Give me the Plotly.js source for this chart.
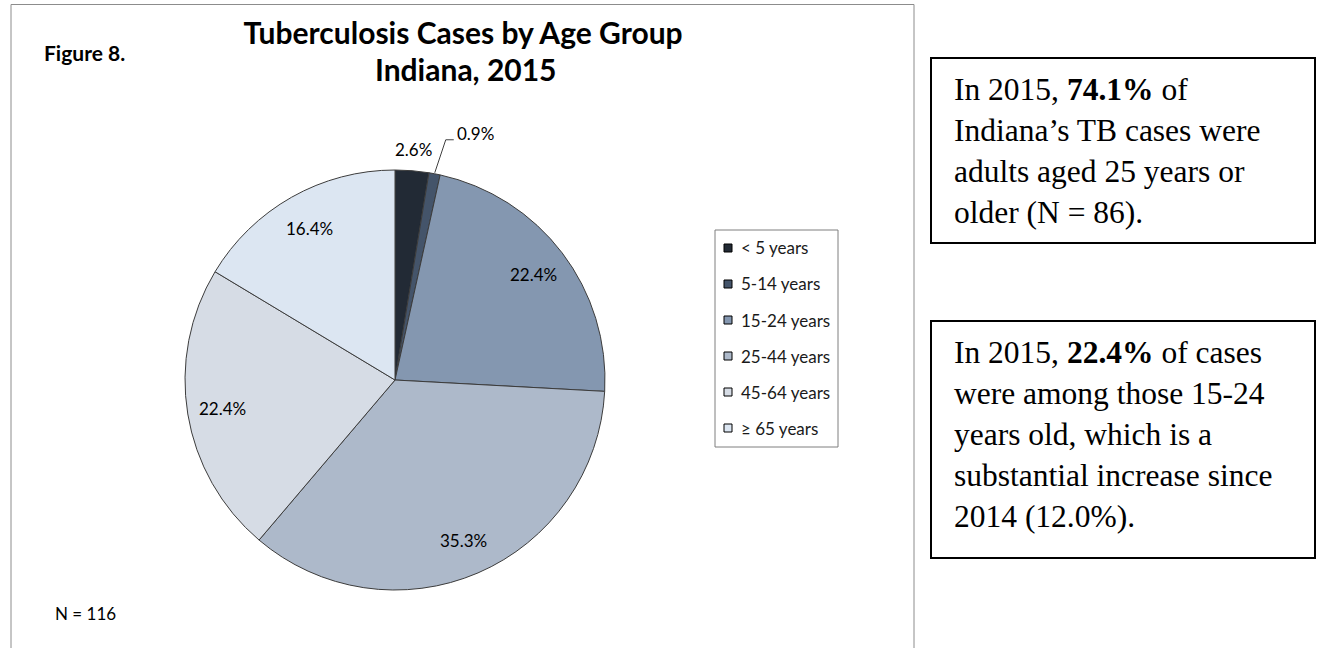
<!DOCTYPE html>
<html>
<head>
<meta charset="utf-8">
<script src="https://cdn.plot.ly/plotly-3.0.1.min.js"></script>
<style>
  html, body { margin: 0; padding: 0; background: #ffffff; }
  #chart { width: 1317px; height: 648px; }
</style>
</head>
<body>
<div id="chart"></div>
<script>
// Tuberculosis cases by age group, Indiana 2015
const ageGroups   = ['< 5 years', '5-14 years', '15-24 years', '25-44 years', '45-64 years', '≥ 65 years'];
const caseCounts  = [3, 1, 26, 41, 26, 19];
const sliceColors = ['#222a35', '#44546a', '#8497b0', '#adb9ca', '#d6dce5', '#dce6f2'];
const adultGroups = ['25-44 years', '45-64 years', '≥ 65 years'];
const youthGroup  = '15-24 years';
const prevYear = 2014;
const prevYearYouthPct = '12.0%';
const titleLines = ['Tuberculosis Cases by Age Group', 'Indiana, 2015'];

const W = 1317, H = 648;
const X = px => px / W;
const Y = py => 1 - py / H;

const CAL = 'Lato, sans-serif';
const SERIF = '"Liberation Serif", "Times New Roman", serif';

const total = caseCounts.reduce((a, b) => a + b, 0);
const pct = v => (v / total * 100).toFixed(1) + '%';

// pie geometry in page pixels
const PIE = { cx: 395, cy: 380, r: 210 };

const pie = {
  type: 'pie',
  values: caseCounts,
  labels: ageGroups,
  sort: false,
  direction: 'clockwise',
  rotation: 0,
  textinfo: 'none',
  hoverinfo: 'skip',
  showlegend: false,
  marker: { colors: sliceColors, line: { color: '#3c3c3c', width: 1 } },
  domain: {
    x: [X(PIE.cx - PIE.r), X(PIE.cx + PIE.r)],
    y: [Y(PIE.cy + PIE.r), Y(PIE.cy - PIE.r)]
  }
};

const annotations = [];
const shapes = [];

function text(t, px, py, size, opts) {
  annotations.push(Object.assign({
    text: t, xref: 'paper', yref: 'paper', x: X(px), y: Y(py),
    xanchor: 'center', yanchor: 'middle', showarrow: false,
    font: { family: CAL, size: size, color: '#000000' }
  }, opts || {}));
}

// slice percentage labels, placed along each slice's bisector
let cum = 0;
caseCounts.forEach((v, i) => {
  const mid = 2 * Math.PI * (cum + v / 2) / total;
  cum += v;
  const share = v / total;
  const sx = Math.sin(mid), sy = Math.cos(mid);
  if (share >= 0.05) {
    const k = 0.83;
    text(pct(v), PIE.cx + k * PIE.r * sx, PIE.cy - k * PIE.r * sy, 17);
  } else if (i === 0) {
    const k = 1.1;
    text(pct(v), PIE.cx + k * PIE.r * sx, PIE.cy - k * PIE.r * sy, 17);
  } else {
    // small slice: label pulled aside with a leader line
    const ex = PIE.cx + (PIE.r + 1) * sx, ey = PIE.cy - (PIE.r + 1) * sy;
    shapes.push({
      type: 'path', xref: 'paper', yref: 'paper',
      path: `M ${X(ex)} ${Y(ey)} L ${X(ex + 11)} ${Y(ey - 33)} L ${X(ex + 19)} ${Y(ey - 33)}`,
      line: { color: '#404040', width: 1 }
    });
    text(pct(v), ex + 20, ey - 39, 17, { xanchor: 'left' });
  }
});

// chart area frame
shapes.push({
  type: 'rect', xref: 'paper', yref: 'paper', layer: 'below',
  x0: X(11), x1: X(914), y0: Y(660), y1: Y(4.5),
  line: { color: '#8c8c8c', width: 1 }, fillcolor: 'rgba(0,0,0,0)'
});

// second title line
text('<b>' + titleLines[1] + '</b>', 466, 69, 30);

text('<b>Figure 8.</b>', 42, 52, 21, { xanchor: 'left' });
text('N = ' + total, 53, 613, 17, { xanchor: 'left' });

// legend
const LEG = { x0: 715, x1: 838, y0: 230, y1: 447, first: 248, step: 36 };
shapes.push({
  type: 'rect', xref: 'paper', yref: 'paper',
  x0: X(LEG.x0), x1: X(LEG.x1), y0: Y(LEG.y1), y1: Y(LEG.y0),
  line: { color: '#7f7f7f', width: 1 }, fillcolor: '#ffffff', layer: 'below'
});
ageGroups.forEach((g, i) => {
  const cy = LEG.first + i * LEG.step;
  shapes.push({
    type: 'rect', xref: 'paper', yref: 'paper',
    x0: X(724), x1: X(732), y0: Y(cy + 4), y1: Y(cy - 4),
    line: { color: '#000000', width: 1 }, fillcolor: sliceColors[i]
  });
  text(g, 739, cy, 17, { xanchor: 'left', font: { family: CAL, size: 17, color: '#1a1a1a' } });
});

// summary boxes
const adultCount = ageGroups.reduce((s, g, i) => s + (adultGroups.includes(g) ? caseCounts[i] : 0), 0);
const youthCount = caseCounts[ageGroups.indexOf(youthGroup)];

function box(x0, y0, x1, y1) {
  shapes.push({
    type: 'rect', xref: 'paper', yref: 'paper',
    x0: X(x0), x1: X(x1), y0: Y(y1), y1: Y(y0),
    line: { color: '#000000', width: 2 }, fillcolor: 'rgba(0,0,0,0)'
  });
}
box(931, 58, 1315, 243);
box(931, 321, 1315, 558);

const serifFont = { family: SERIF, size: 31.5, color: '#000000' };
text('In 2015, <b>' + pct(adultCount) + '</b> of<br>Indiana’s TB cases were<br>adults aged 25 years or<br>older (N = ' + adultCount + ').',
  952, 70, 31.5, { xanchor: 'left', yanchor: 'top', align: 'left', font: serifFont });
text('In 2015, <b>' + pct(youthCount) + '</b> of cases<br>were among those 15-24<br>years old, which is a<br>substantial increase since<br>' + prevYear + ' (' + prevYearYouthPct + ').',
  952, 333, 31.5, { xanchor: 'left', yanchor: 'top', align: 'left', font: serifFont });

const layout = {
  width: W, height: H,
  margin: { l: 0, r: 0, t: 0, b: 0 },
  paper_bgcolor: '#ffffff',
  plot_bgcolor: '#ffffff',
  showlegend: false,
  hovermode: false,
  title: {
    text: '<b>' + titleLines[0] + '</b>',
    x: X(463), xanchor: 'center', xref: 'paper',
    y: Y(33), yanchor: 'middle', yref: 'paper',
    font: { family: CAL, size: 30, color: '#000000' }
  },
  annotations: annotations,
  shapes: shapes
};

Plotly.newPlot('chart', [pie], layout, { staticPlot: true, displayModeBar: false });
</script>
</body>
</html>
